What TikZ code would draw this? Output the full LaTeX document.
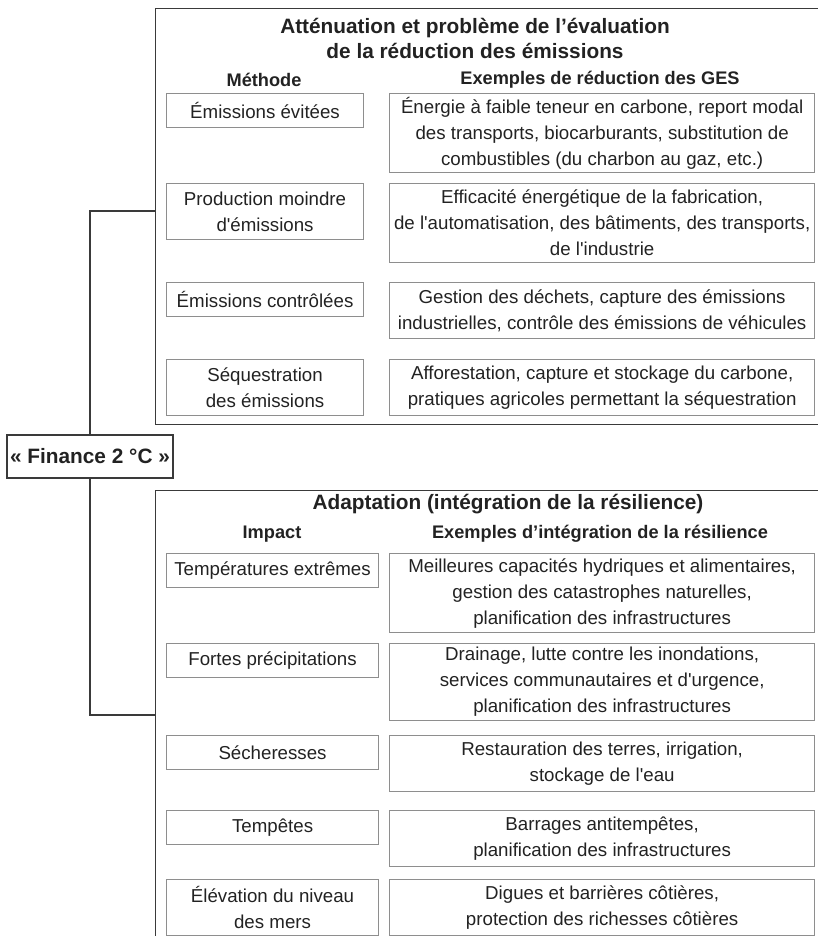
\documentclass[tikz,border=0pt]{standalone}
\usepackage{fontspec}
\setmainfont{Liberation Sans}
\usetikzlibrary{positioning, calc}
\definecolor{boxgray}{HTML}{8E8E8E}
\definecolor{framegray}{HTML}{3A3A3A}
\definecolor{inkgray}{HTML}{222222}
\newcommand{\bodyfont}{\fontsize{18.7}{26}\selectfont}
\newcommand{\titlefont}{\fontsize{20.8}{25}\selectfont\bfseries}
\newcommand{\headfont}{\fontsize{18.2}{22}\selectfont\bfseries}
\newcommand{\straightq}{\textquotesingle}

\begin{document}
\begin{tikzpicture}[
  x=1pt, y=-1pt,
  panel/.style={draw=framegray,line width=1.4pt,anchor=north west,inner sep=0pt},
  link/.style={draw=framegray,line width=1.4pt},
  finbox/.style={draw=framegray,line width=1.4pt,font=\titlefont,text=inkgray,
    minimum width=166pt,minimum height=43pt,inner sep=0pt},
  title/.style={font=\titlefont,text=inkgray,align=center},
  head/.style={font=\headfont,text=inkgray},
  cell/.style={draw=boxgray,line width=1.1pt,anchor=north west,align=center,
    inner sep=0pt,font=\bodyfont,text=inkgray},
  meth/.style={cell,minimum width=197pt,minimum height=34pt},
  imp/.style={cell,minimum width=212pt,minimum height=34pt},
  ex/.style={cell,minimum width=425pt,minimum height=56pt}
]
  \useasboundingbox (0,0) rectangle (818,936);
  \clip (0,0) rectangle (818,936);

  % Panels
  \node[panel,minimum width=680pt,minimum height=416pt] (mitig) at (155,8) {};
  \node[panel,minimum width=680pt,minimum height=470pt] (adapt) at (155,490) {};

  % Mitigation
  \node[title] (mtitle) at (475,38) {Atténuation et problème de l’évaluation\\de la réduction des émissions};
  \node[head] (mhead) at (264,80) {Méthode};
  \node[head] (mexhead) at (600,80) {Exemples de réduction des GES};

  \node[meth] (m1) at (166,93) {Émissions évitées};
  \node[ex,minimum height=79pt,right=25pt of m1.north east,anchor=north west] (e1)
    {Énergie à faible teneur en carbone, report modal\\des transports, biocarburants, substitution de\\combustibles (du charbon au gaz, etc.)};
  \node[meth,minimum height=56pt] (m2) at (166,183) {Production moindre\\d\straightq émissions};
  \node[ex,minimum height=79pt,right=25pt of m2.north east,anchor=north west] (e2)
    {Efficacité énergétique de la fabrication,\\de l\straightq automatisation, des bâtiments, des transports,\\de l\straightq industrie};
  \node[meth] (m3) at (166,282) {Émissions contrôlées};
  \node[ex,right=25pt of m3.north east,anchor=north west] (e3)
    {Gestion des déchets, capture des émissions\\industrielles, contrôle des émissions de véhicules};
  \node[meth,minimum height=56pt] (m4) at (166,359) {Séquestration\\des émissions};
  \node[ex,right=25pt of m4.north east,anchor=north west] (e4)
    {Afforestation, capture et stockage du carbone,\\pratiques agricoles permettant la séquestration};

  % Adaptation
  \node[title] (atitle) at (508,504) {Adaptation (intégration de la résilience)};
  \node[head] (ahead) at (272,534) {Impact};
  \node[head] (aexhead) at (600,534) {Exemples d’intégration de la résilience};

  \node[imp] (a1) at (166,553) {Températures extrêmes};
  \node[ex,minimum height=79pt,right=10pt of a1.north east,anchor=north west] (r1)
    {Meilleures capacités hydriques et alimentaires,\\gestion des catastrophes naturelles,\\planification des infrastructures};
  \node[imp] (a2) at (166,643) {Fortes précipitations};
  \node[ex,minimum height=77pt,right=10pt of a2.north east,anchor=north west] (r2)
    {Drainage, lutte contre les inondations,\\services communautaires et d\straightq urgence,\\planification des infrastructures};
  \node[imp] (a3) at (166,735) {Sécheresses};
  \node[ex,right=10pt of a3.north east,anchor=north west] (r3)
    {Restauration des terres, irrigation,\\stockage de l\straightq eau};
  \node[imp] (a4) at (166,810) {Tempêtes};
  \node[ex,right=10pt of a4.north east,anchor=north west] (r4)
    {Barrages antitempêtes,\\planification des infrastructures};
  \node[imp,minimum height=56pt] (a5) at (166,879) {Élévation du niveau\\des mers};
  \node[ex,right=10pt of a5.north east,anchor=north west] (r5)
    {Digues et barrières côtières,\\protection des richesses côtières};

  % Root and links
  \node[finbox,fill=white] (fin) at (90,456.5) {« Finance 2 °C »};
  \coordinate (mjoin) at (155,211);
  \coordinate (ajoin) at (155,715);
  \draw[link] (fin.north) |- (mjoin);
  \draw[link] (fin.south) |- (ajoin);
\end{tikzpicture}
\end{document}
